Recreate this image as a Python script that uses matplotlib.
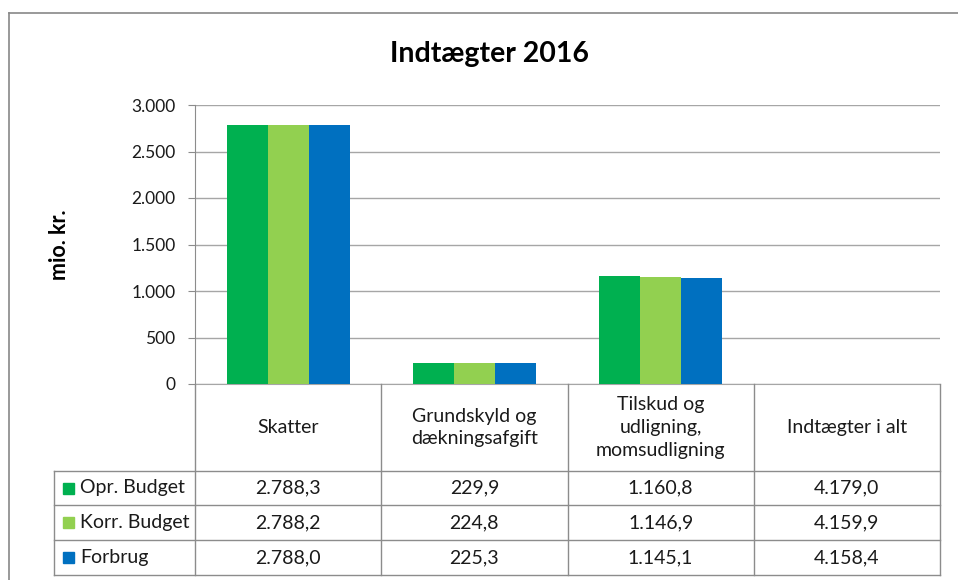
import matplotlib
matplotlib.use('Agg')
import matplotlib.pyplot as plt
from matplotlib.lines import Line2D
from matplotlib.patches import Rectangle

plt.rcParams['font.family'] = ['Lato', 'DejaVu Sans']

# data
kategorier = ['Skatter', 'Grundskyld og\ndækningsafgift',
              'Tilskud og\nudligning,\nmomsudligning', 'Indtægter i alt']
serier = ['Opr. Budget', 'Korr. Budget', 'Forbrug']
opr_budget = [2788.3, 229.9, 1160.8, 4179.0]
korr_budget = [2788.2, 224.8, 1146.9, 4159.9]
forbrug = [2788.0, 225.3, 1145.1, 4158.4]
vis_i_graf = [True, True, True, False]   # "i alt" vises kun i tabellen
farver = ['#00B050', '#92D050', '#0070C0']
y_ticks = [0, 500, 1000, 1500, 2000, 2500, 3000]

W, H = 958, 580


def fx(x):
    return x / W


def fy(y):
    return 1 - y / H


def dk(v, dec=1):
    s = f"{v:,.{dec}f}"
    return s.replace(',', 'X').replace('.', ',').replace('X', '.')


fig = plt.figure(figsize=(W / 100, H / 100), dpi=100)

# plot area in pixels
L, R, T, B = 195, 940, 105, 384
ax = fig.add_axes([fx(L), fy(B), fx(R - L), fy(T) - fy(B)])

grid = '#A6A6A6'
line = '#8C8C8C'
txt = '#1A1A1A'
bw = 0.22
alle = [opr_budget, korr_budget, forbrug]
for i, (vals, c) in enumerate(zip(alle, farver)):
    xs = [k + (i - 1) * bw for k in range(len(kategorier)) if vis_i_graf[k]]
    ys = [v for k, v in enumerate(vals) if vis_i_graf[k]]
    ax.bar(xs, ys, width=bw, color=c, zorder=3)

ax.set_xlim(-0.5, len(kategorier) - 0.5)
ax.set_ylim(0, 3000)
ax.set_yticks(y_ticks)
ax.set_yticklabels([dk(t, 0) for t in y_ticks], fontsize=12.5, color=txt)
ax.set_xticks([])
ax.yaxis.grid(True, color=grid, linewidth=1)
ax.set_axisbelow(True)
for s in ['top', 'right']:
    ax.spines[s].set_visible(False)
ax.spines['left'].set_color(line)
ax.spines['bottom'].set_color(grid)
ax.tick_params(axis='y', length=5, color=line, pad=9)

fig.text(fx(59), fy(245), 'mio. kr.', rotation=90, ha='center', va='center',
         fontsize=15.5, fontweight='bold', color='black')
fig.text(fx(490), fy(54), 'Indtægter 2016', ha='center', va='center',
         fontsize=20.5, fontweight='bold', color='black')

# data table
col_w = (R - L) / len(kategorier)
rows_y = [471, 505, 540, 575]
leg_x = 54


def hline(x0, x1, y):
    fig.add_artist(Line2D([fx(x0), fx(x1)], [fy(y), fy(y)], color=line, lw=1))


def vline(x, y0, y1):
    fig.add_artist(Line2D([fx(x), fx(x)], [fy(y0), fy(y1)], color=line, lw=1))


for k in range(len(kategorier) + 1):
    vline(L + k * col_w, B, rows_y[-1])
vline(leg_x, rows_y[0], rows_y[-1])
for y in rows_y:
    hline(leg_x, R, y)

for k, navn in enumerate(kategorier):
    cx = L + (k + 0.5) * col_w
    fig.text(fx(cx), fy((B + rows_y[0]) / 2), navn, ha='center', va='center',
             fontsize=14, color=txt, linespacing=1.4)
    for r, vals in enumerate(alle):
        fig.text(fx(cx), fy((rows_y[r] + rows_y[r + 1]) / 2), dk(vals[k]),
                 ha='center', va='center', fontsize=14, color=txt)

for r, (navn, c) in enumerate(zip(serier, farver)):
    yc = (rows_y[r] + rows_y[r + 1]) / 2
    fig.add_artist(Rectangle((fx(63), fy(yc + 5.5)), fx(10.5), fy(yc - 5.5) - fy(yc + 5.5),
                             color=c, transform=fig.transFigure))
    fig.text(fx(80), fy(yc), navn, ha='left', va='center', fontsize=14,
             color=txt)

# chart frame (cut off at right and bottom)
fig.add_artist(Line2D([fx(9), fx(W)], [fy(13), fy(13)], color='#888888', lw=1.2))
fig.add_artist(Line2D([fx(9), fx(9)], [fy(13), fy(H)], color='#888888', lw=1.2))

fig.savefig('out.png', dpi=100)
